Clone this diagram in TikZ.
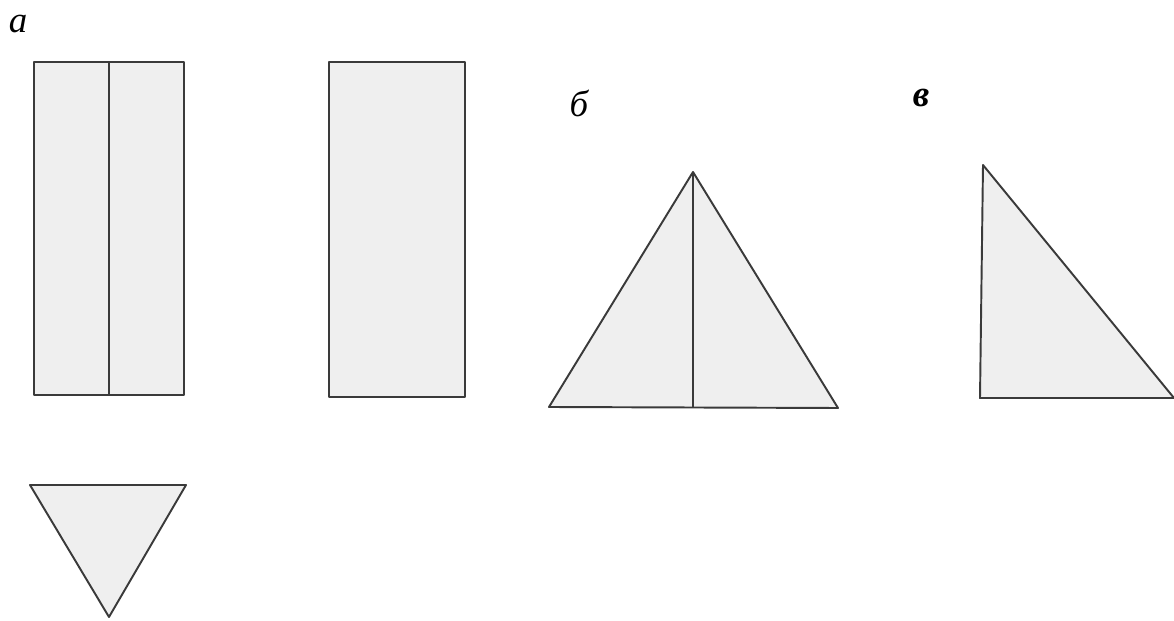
\documentclass[tikz,border=0pt]{standalone}
\usepackage{fontspec}
\setmainfont{Liberation Serif}
\definecolor{paper}{HTML}{EFEFEF}
\definecolor{pencil}{HTML}{3A3A3A}
\tikzset{
  part/.style={fill=paper,draw=pencil,line width=1.1pt,line join=round},
  fold/.style={draw=pencil,line width=0.9pt},
  tag/.style={font=\fontsize{21}{25}\selectfont\itshape,inner sep=0pt}
}

\begin{document}
\begin{tikzpicture}[x=0.02cm,y=-0.02cm]
    \useasboundingbox (0,0) rectangle (1174,621);
    % Panel (а)
    \node[tag] (taga) at (18,24) {а};
    \draw[part] (34,62) rectangle (184,395);
    \draw[fold] (109,62) -- (109,395);
    \draw[part] (329,62) rectangle (465,397);
    \draw[part] (30,485) -- (186,485) -- (109,617) -- cycle;
    % Panel (б)
    \node[tag] (tagb) at (579,103) {б};
    \draw[part] (693,172) -- (838,408) -- (549,407) -- cycle;
    \draw[fold,line width=0.6pt] (693,172) -- (693,408);
    % Panel (в)
    \node[tag,font=\fontsize{21}{25}\selectfont\itshape\bfseries] (tagc) at (921,98) {в};
    \draw[part] (983,165) -- (1174,398) -- (980,398) -- cycle;
\end{tikzpicture}
\end{document}
